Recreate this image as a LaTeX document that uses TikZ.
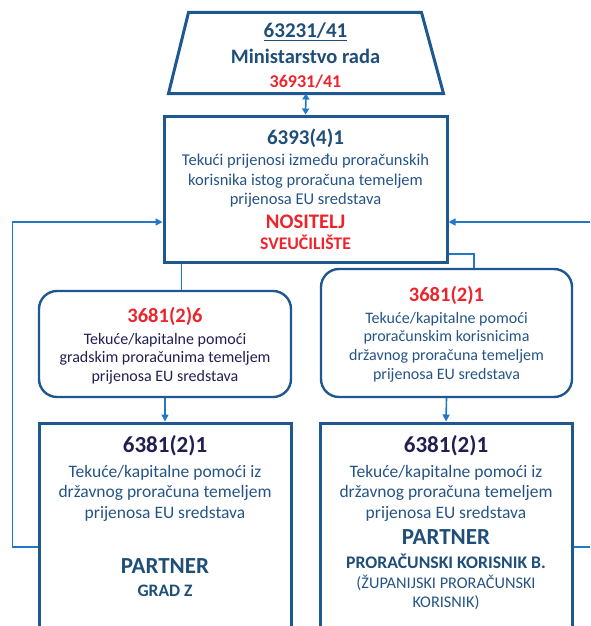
\documentclass[tikz,border=0pt]{standalone}
\usepackage{fontspec}
\setmainfont{Carlito}
\usetikzlibrary{arrows.meta}
\definecolor{cFrame}{RGB}{31,88,145}
\definecolor{cWire}{RGB}{34,120,200}
\definecolor{cInk}{RGB}{31,78,121}
\definecolor{cBody}{RGB}{36,84,135}
\definecolor{cDeep}{RGB}{33,31,82}
\definecolor{cAlert}{RGB}{238,36,44}
\newcommand\fsz[1]{\fontsize{#1}{#1}\selectfont}

\begin{document}
\begin{tikzpicture}[x=1pt,y=-1pt,
  boxframe/.style={draw=cFrame, line width=3pt, inner sep=0pt},
  roundframe/.style={draw=cFrame, line width=2.4pt, rounded corners=18pt, inner sep=0pt},
  wire/.style={draw=cWire, line width=1.6pt},
  tipped/.style={-{Triangle[length=7pt,width=7pt]}},
  bothtips/.style={{Triangle[length=6pt,width=7pt]}-{Triangle[length=6pt,width=7pt]}},
  txt/.style={anchor=base, inner sep=0pt},
  head/.style={txt, font=\bfseries\fsz{21}, text=cInk},
  bighead/.style={txt, font=\bfseries\fsz{23}, text=cDeep},
  redhead/.style={txt, font=\bfseries\fsz{20.5}, text=cAlert},
  body/.style={txt, font=\fsz{16.5}, text=cBody},
  rbody/.style={txt, font=\fsz{16}, text=cBody},
  bbody/.style={txt, font=\fsz{17.5}, text=cBody},
]
\useasboundingbox (0,0) rectangle (590,626);
\clip (0,0) rectangle (590,626);

% ministry trapezoid: a bounding node, outline drawn through its corners
\node[minimum width=272pt, minimum height=78pt, inner sep=0pt, outer sep=1.5pt] (ministry) at (306,53) {};
\draw[cFrame, line width=3pt, line join=miter]
  ([xshift=20pt]ministry.north west) -- ([xshift=-22pt]ministry.north east)
  -- (ministry.south east) -- (ministry.south west) -- cycle;

% boxes
\node[boxframe, minimum width=283pt, minimum height=146pt] (holder) at (305.5,189) {};
\node[roundframe, minimum width=252pt, minimum height=106pt] (cityaid) at (165,344) {};
\node[roundframe, minimum width=251pt, minimum height=128pt] (stateaid) at (446.5,333) {};
\node[boxframe, minimum width=252pt, minimum height=277pt] (city) at (165,561.5) {};
\node[boxframe, minimum width=252pt, minimum height=277pt] (county) at (446,561.5) {};

% texts: ministry
\node[head, font=\bfseries\fsz{21}] (m1) at (305.5,37.7) {\underline{63231/41}};
\node[head, font=\bfseries\fsz{20.5}] (m2) at (305.5,63.3) {Ministarstvo rada};
\node[txt, font=\bfseries\fsz{18}, text=cAlert] (m3) at (305.5,87.3) {36931/41};

% texts: holder
\node[head] (h1) at (305.5,144.3) {6393(4)1};
\node[body] (h2) at (305.5,165.3) {Tekući prijenosi između proračunskih};
\node[body] (h3) at (305.5,185) {korisnika istog proračuna temeljem};
\node[body] (h4) at (305.5,204.3) {prijenosa EU sredstava};
\node[txt, font=\bfseries\fsz{20.7}, text=cAlert] (h5) at (305.5,228.7) {NOSITELJ};
\node[txt, font=\bfseries\fsz{17.7}, text=cAlert] (h6) at (305.5,249.3) {SVEUČILIŠTE};

% texts: city aid
\node[redhead] (c1) at (165,322.7) {3681(2)6};
\node[rbody, text=cDeep] (c2) at (165,344) {Tekuće/kapitalne pomoći};
\node[rbody, text=cDeep] (c3) at (165,362.7) {gradskim proračunima temeljem};
\node[rbody, text=cDeep] (c4) at (165,381) {prijenosa EU sredstava};

% texts: state aid
\node[redhead] (s1) at (446.5,301.7) {3681(2)1};
\node[rbody] (s2) at (446.5,323.3) {Tekuće/kapitalne pomoći};
\node[rbody] (s3) at (446.5,341.7) {proračunskim korisnicima};
\node[rbody] (s4) at (446.5,360.3) {državnog proračuna temeljem};
\node[rbody] (s5) at (446.5,379.3) {prijenosa EU sredstava};

% texts: city partner
\node[bighead] (p1) at (165,452.3) {6381(2)1};
\node[bbody] (p2) at (165,477.3) {Tekuće/kapitalne pomoći iz};
\node[bbody] (p3) at (165,497.3) {državnog proračuna temeljem};
\node[bbody] (p4) at (165,518) {prijenosa EU sredstava};
\node[txt, font=\bfseries\fsz{23}, text=cInk] (p5) at (165,573.3) {PARTNER};
\node[txt, font=\bfseries\fsz{17.5}, text=cInk] (p6) at (165,596) {GRAD Z};

% texts: county partner
\node[bighead] (q1) at (446,452.3) {6381(2)1};
\node[bbody] (q2) at (446,477.3) {Tekuće/kapitalne pomoći iz};
\node[bbody] (q3) at (446,497.3) {državnog proračuna temeljem};
\node[bbody] (q4) at (446,518) {prijenosa EU sredstava};
\node[txt, font=\bfseries\fsz{23}, text=cInk] (q5) at (446,544.7) {PARTNER};
\node[txt, font=\bfseries\fsz{17.7}, text=cInk] (q6) at (446,568.3) {PRORAČUNSKI KORISNIK B.};
\node[txt, font=\fsz{16.3}, text=cBody] (q7) at (446,588.7) {(ŽUPANIJSKI PRORAČUNSKI};
\node[txt, font=\fsz{16.3}, text=cBody] (q8) at (446,607) {KORISNIK)};

% connectors
\draw[wire, bothtips] (ministry.south) -- (holder.north);
\draw[wire] ([xshift=19pt]holder.south west) -- ([xshift=19pt]holder.south west |- cityaid.north);
\draw[wire] ([yshift=9.5pt]holder.south east) -| ([xshift=27.5pt]stateaid.north);
\draw[wire, tipped] (cityaid.south) -- (city.north);
\draw[wire, tipped] (stateaid.south) -- (county.north);

\coordinate (lowleft) at (12.5,547);
\coordinate (upleft) at (12.5,222);
\coordinate (lowright) at (590,547);
\coordinate (upright) at (590,222);
\draw[wire, tipped] (city.west |- lowleft) -- (lowleft) -- (upleft) -- (holder.west |- upleft);
\draw[wire] (county.east |- lowright) -- (lowright);
\draw[wire, tipped] (upright) -- (holder.east |- upright);
\end{tikzpicture}
\end{document}
